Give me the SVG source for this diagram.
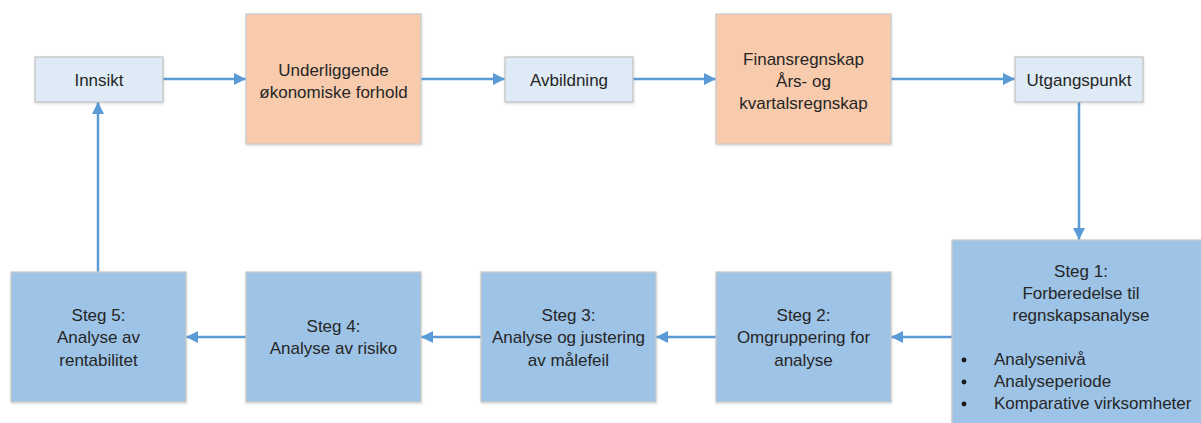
<svg xmlns="http://www.w3.org/2000/svg" width="1201" height="423" viewBox="0 0 1201 423">
  <style>
    .t { font-family: "Liberation Sans", Arial, sans-serif; font-size: 17px; fill: #262626; text-anchor: middle; }
    .tl { font-family: "Liberation Sans", Arial, sans-serif; font-size: 17px; fill: #262626; }
    .light { fill: #DEEBF7; stroke: #C4C4C4; stroke-width: 1.3; }
    .orange { fill: #F8CBAD; stroke: #C9C9C9; stroke-width: 1.3; }
    .step { fill: #9DC3E6; stroke: #C9C9C9; stroke-width: 1.3; }
    .conn { fill: none; stroke: #5B9BD5; stroke-width: 2.5; }
  </style>
  <defs>
    <marker id="ah" markerUnits="userSpaceOnUse" markerWidth="13" markerHeight="13" refX="12" refY="6" orient="auto">
      <path d="M0,0 L12,6 L0,12 Z" fill="#5B9BD5"/>
    </marker>
    <filter id="sh" x="-10%" y="-10%" width="120%" height="130%">
      <feDropShadow dx="0.5" dy="1.5" stdDeviation="1.2" flood-color="#000" flood-opacity="0.12"/>
    </filter>
  </defs>
  <rect width="1201" height="423" fill="#FFFFFF"/>

  <g id="connectors">
    <line class="conn" x1="163" y1="79" x2="246" y2="79" marker-end="url(#ah)"/>
    <line class="conn" x1="421" y1="79" x2="505" y2="79" marker-end="url(#ah)"/>
    <line class="conn" x1="633" y1="79" x2="716" y2="79" marker-end="url(#ah)"/>
    <line class="conn" x1="891" y1="79" x2="1015" y2="79" marker-end="url(#ah)"/>
    <line class="conn" x1="1079" y1="102" x2="1079" y2="240" marker-end="url(#ah)"/>
    <line class="conn" x1="952" y1="337" x2="891" y2="337" marker-end="url(#ah)"/>
    <line class="conn" x1="716" y1="337" x2="656" y2="337" marker-end="url(#ah)"/>
    <line class="conn" x1="481" y1="337" x2="421" y2="337" marker-end="url(#ah)"/>
    <line class="conn" x1="246" y1="337" x2="186" y2="337" marker-end="url(#ah)"/>
    <line class="conn" x1="98" y1="272" x2="98" y2="102" marker-end="url(#ah)"/>
  </g>

  <g id="innsikt">
    <rect class="light" x="35" y="57" width="128" height="45" filter="url(#sh)"/>
    <text class="t" x="99" y="85.5">Innsikt</text>
  </g>
  <g id="underliggende">
    <rect class="orange" x="246" y="14" width="175" height="130" filter="url(#sh)"/>
    <text class="t" x="333.5" y="75.5">Underliggende</text>
    <text class="t" x="333.5" y="97.5">økonomiske forhold</text>
  </g>
  <g id="avbildning">
    <rect class="light" x="505" y="57" width="128" height="45" filter="url(#sh)"/>
    <text class="t" x="569" y="85.5">Avbildning</text>
  </g>
  <g id="finansregnskap">
    <rect class="orange" x="716" y="14" width="175" height="130" filter="url(#sh)"/>
    <text class="t" x="803.5" y="64.5">Finansregnskap</text>
    <text class="t" x="803.5" y="86.5">Års- og</text>
    <text class="t" x="803.5" y="108.5">kvartalsregnskap</text>
  </g>
  <g id="utgangspunkt">
    <rect class="light" x="1015" y="57" width="128" height="45" filter="url(#sh)"/>
    <text class="t" x="1079" y="85.5">Utgangspunkt</text>
  </g>

  <g id="steg1">
    <rect class="step" x="952" y="240" width="262" height="200" filter="url(#sh)"/>
    <text class="t" x="1081" y="277">Steg 1:</text>
    <text class="t" x="1081" y="299">Forberedelse til</text>
    <text class="t" x="1081" y="321">regnskapsanalyse</text>
    <circle cx="964" cy="360" r="2.4" fill="#1a1a1a"/>
    <circle cx="964" cy="382" r="2.4" fill="#1a1a1a"/>
    <circle cx="964" cy="404" r="2.4" fill="#1a1a1a"/>
    <text class="tl" x="994" y="365">Analysenivå</text>
    <text class="tl" x="994" y="387">Analyseperiode</text>
    <text class="tl" x="994" y="409">Komparative virksomheter</text>
  </g>
  <g id="steg2">
    <rect class="step" x="716" y="272" width="175" height="130" filter="url(#sh)"/>
    <text class="t" x="803.5" y="321">Steg 2:</text>
    <text class="t" x="803.5" y="343">Omgruppering for</text>
    <text class="t" x="803.5" y="366">analyse</text>
  </g>
  <g id="steg3">
    <rect class="step" x="481" y="272" width="175" height="130" filter="url(#sh)"/>
    <text class="t" x="568.5" y="321">Steg 3:</text>
    <text class="t" x="568.5" y="343">Analyse og justering</text>
    <text class="t" x="568.5" y="366">av målefeil</text>
  </g>
  <g id="steg4">
    <rect class="step" x="246" y="272" width="175" height="130" filter="url(#sh)"/>
    <text class="t" x="333.5" y="332">Steg 4:</text>
    <text class="t" x="333.5" y="354">Analyse av risiko</text>
  </g>
  <g id="steg5">
    <rect class="step" x="11" y="272" width="175" height="130" filter="url(#sh)"/>
    <text class="t" x="98.5" y="321">Steg 5:</text>
    <text class="t" x="98.5" y="343">Analyse av</text>
    <text class="t" x="98.5" y="366">rentabilitet</text>
  </g>
</svg>
